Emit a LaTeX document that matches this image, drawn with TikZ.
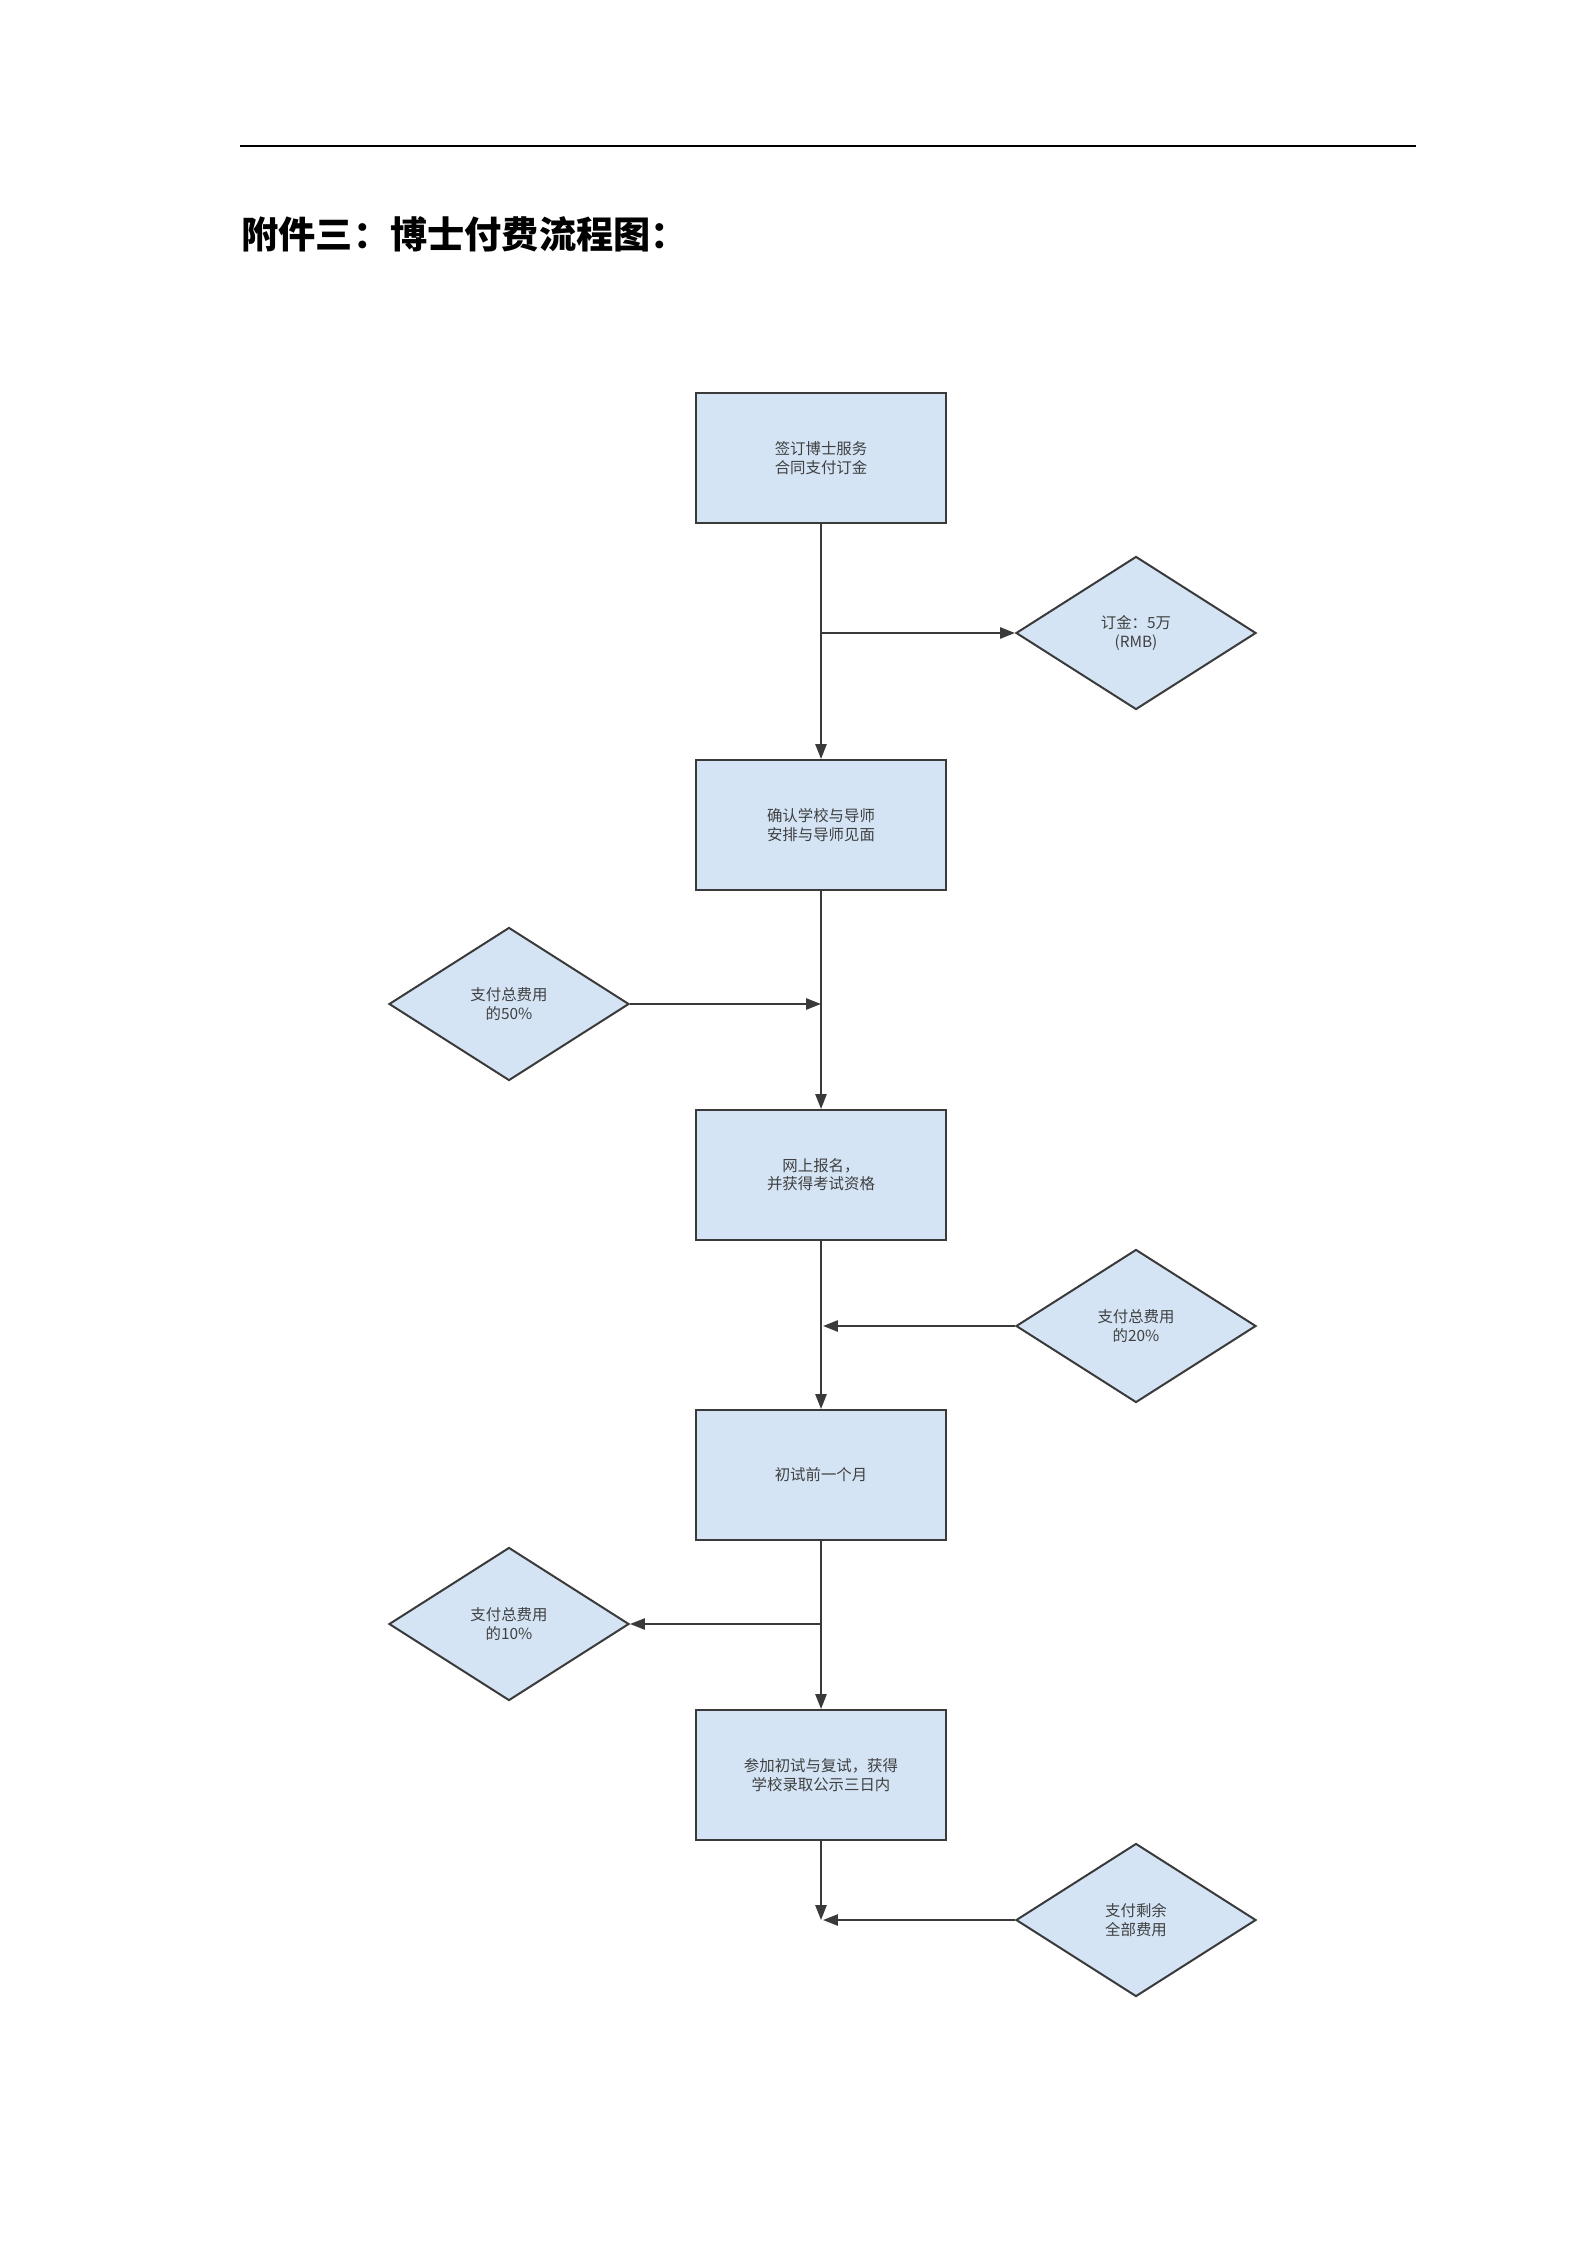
\documentclass[tikz,border=0pt]{standalone}
\usepackage{fontspec}
\newfontfamily\cjk{Noto Sans CJK SC}
\usepackage{xcolor}
\usepackage{tikz}
\usetikzlibrary{arrows.meta, shapes.geometric}

\definecolor{boxfill}{RGB}{212,228,245}
\definecolor{edge}{RGB}{58,58,58}
\definecolor{txt}{RGB}{64,64,64}

\tikzset{
    stepbox/.style={draw=edge, line width=0.75pt, fill=boxfill, text=txt,
        minimum width=33.08mm, minimum height=17.2mm, align=center,
        font=\cjk\fontsize{5.8pt}{6.9pt}\selectfont},
    paybox/.style={diamond, draw=edge, line width=0.75pt, fill=boxfill, text=txt,
        minimum width=31.76mm, minimum height=20.25mm, inner sep=0pt, align=center,
        font=\cjk\fontsize{5.8pt}{6.9pt}\selectfont},
    arr/.style={draw=edge, line width=0.75pt, -{Triangle[length=5.6pt,width=4.2pt]}}
}

\begin{document}
\begin{tikzpicture}[x=0.132325mm, y=-0.132325mm]
    \useasboundingbox (0,0) rectangle (1587,2245);
    % header rule and title
    \draw[line width=0.65pt] (240,146) -- (1416,146);
    \node[anchor=west, inner sep=0pt, font=\cjk\bfseries\fontsize{14pt}{16pt}\selectfont] (title) at (241,234) {附件三：博士付费流程图：};

    % steps
    \node[stepbox] (sign) at (821,458) {签订博士服务\\合同支付订金};
    \node[stepbox] (meet) at (821,825) {确认学校与导师\\安排与导师见面};
    \node[stepbox] (apply) at (821,1175) {网上报名，\\并获得考试资格};
    \node[stepbox] (month) at (821,1475) {初试前一个月};
    \node[stepbox] (admit) at (821,1775) {参加初试与复试，获得\\学校录取公示三日内};

    % payments
    \node[paybox] (deposit) at (1136,633) {订金：5万\\(RMB)};
    \node[paybox] (half) at (509,1004) {支付总费用\\的50\%};
    \node[paybox] (fifth) at (1136,1326) {支付总费用\\的20\%};
    \node[paybox] (tenth) at (509,1624) {支付总费用\\的10\%};
    \node[paybox] (rest) at (1136,1920) {支付剩余\\全部费用};

    \coordinate (j1) at (821,633);
    \coordinate (j2) at (821,1004);
    \coordinate (j3) at (823,1326);
    \coordinate (j4) at (821,1624);
    \coordinate (j5) at (821,1920);
    \coordinate (k5) at (823,1920);

    \draw[arr] (sign) -- (meet);
    \draw[arr] (meet) -- (apply);
    \draw[arr] (apply) -- (month);
    \draw[arr] (month) -- (admit);
    \draw[arr] (admit) -- (j5);
    \draw[arr] (j1) -- (deposit);
    \draw[arr] (half) -- (j2);
    \draw[arr] (fifth) -- (j3);
    \draw[arr] (j4) -- (tenth);
    \draw[arr] (rest) -- (k5);
\end{tikzpicture}
\end{document}
